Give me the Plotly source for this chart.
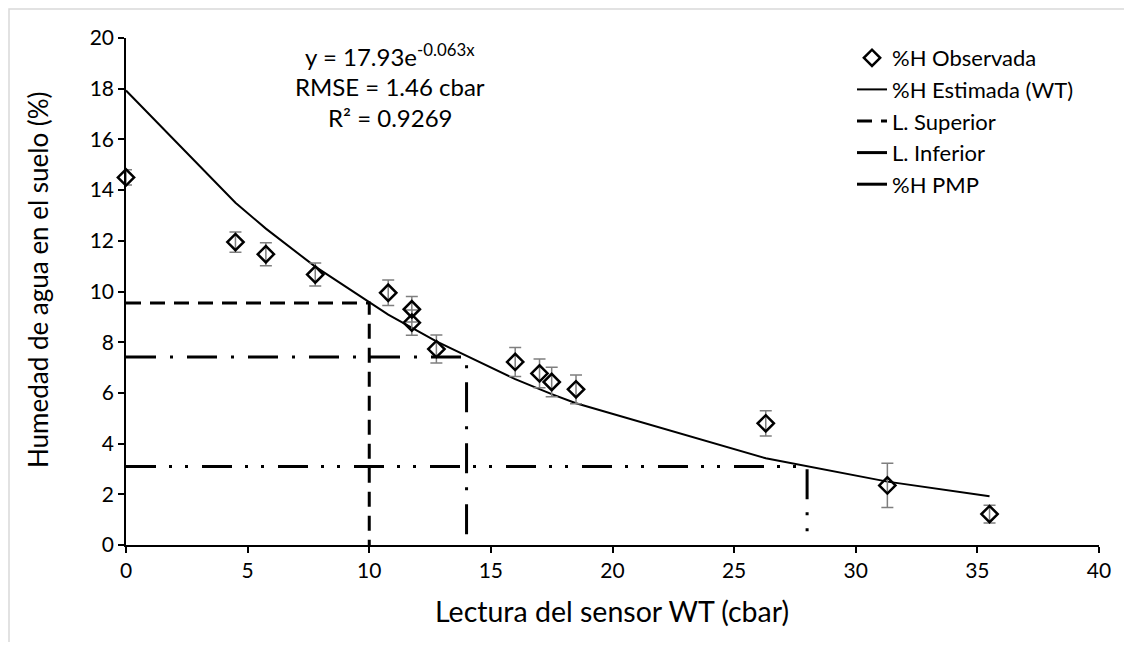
import plotly.graph_objects as go

# ---- data ----
obs_x = [0, 4.5, 5.75, 7.78, 10.78, 11.75, 11.75, 12.76, 16.0, 17.0, 17.5, 18.5, 26.3, 31.3, 35.5]
obs_y = [14.5, 11.95, 11.47, 10.67, 9.95, 9.3, 8.77, 7.73, 7.22, 6.77, 6.43, 6.14, 4.8, 2.35, 1.22]
obs_err = [0.3, 0.4, 0.45, 0.45, 0.5, 0.5, 0.5, 0.55, 0.57, 0.57, 0.58, 0.57, 0.5, 0.87, 0.35]

est_x = [0, 4.5, 5.75, 7.78, 10.78, 11.75, 12.76, 16.0, 17.0, 17.5, 18.5, 26.3, 31.3, 35.5]
est_y = [17.93, 13.50, 12.48, 10.98, 9.09, 8.56, 8.03, 6.54, 6.14, 5.95, 5.59, 3.42, 2.50, 1.92]

sup_x = [0, 10, 10]
sup_y = [9.55, 9.55, 0]
inf_x = [0, 14, 14]
inf_y = [7.42, 7.42, 0]
pmp_x = [0, 28, 28]
pmp_y = [3.1, 3.1, 0]

x_ticks = [0, 5, 10, 15, 20, 25, 30, 35, 40]
y_ticks = [0, 2, 4, 6, 8, 10, 12, 14, 16, 18, 20]

FONT = "Lato"
OFF = 8  # page body margin
W, H = 1116, 634
# plot area in page pixels: left 126, right 1099, top 38, bottom 545
L = 126 - OFF
T = 38 - OFF
R = W - (1099 - OFF)
B = H - (545 - OFF)
pw, ph = W - L - R, H - T - B


def px2paper_x(p):
    return (p - OFF - L) / pw


def px2paper_y(p):
    return (H - B - (p - OFF)) / ph


fig = go.Figure()

fig.add_trace(go.Scatter(
    x=sup_x, y=sup_y, mode="lines", name="L. Superior",
    line=dict(color="black", width=3, dash="15px,9px"),
))
fig.add_trace(go.Scatter(
    x=inf_x, y=inf_y, mode="lines", name="L. Inferior",
    line=dict(color="black", width=3, dash="30px,14px,3px,14px"),
))
fig.add_trace(go.Scatter(
    x=pmp_x, y=pmp_y, mode="lines", name="%H PMP",
    line=dict(color="black", width=3, dash="30px,13px,3px,13px,3px,14px"),
))
fig.add_trace(go.Scatter(
    x=est_x, y=est_y, mode="lines", name="%H Estimada (WT)",
    line=dict(color="black", width=2),
))
fig.add_trace(go.Scatter(
    x=obs_x, y=obs_y, mode="markers", name="%H Observada",
    marker=dict(symbol="diamond-open", size=12.5, color="black", line=dict(width=2.5, color="black")),
    error_y=dict(type="data", array=obs_err, visible=True, color="#7f7f7f", thickness=1.5, width=6),
    cliponaxis=False,
))

order = ["%H Observada", "%H Estimada (WT)", "L. Superior", "L. Inferior", "%H PMP"]
for tr in fig.data:
    tr.legendrank = order.index(tr.name) + 1

axis_common = dict(
    showline=True, linecolor="black", linewidth=1.5,
    ticks="outside", ticklen=6, tickwidth=1.5, tickcolor="black",
    showgrid=False, zeroline=False,
    tickfont=dict(family=FONT, size=21, color="black"),
)

fig.update_layout(
    width=W, height=H,
    margin=dict(l=L, r=R, t=T, b=B, autoexpand=False),
    paper_bgcolor="white", plot_bgcolor="white",
    font=dict(family=FONT, color="black"),
    xaxis=dict(range=[0, 40], tickvals=x_ticks, **axis_common),
    yaxis=dict(range=[0, 20], tickvals=y_ticks, **axis_common),
    showlegend=True,
    legend=dict(
        x=px2paper_x(852), y=px2paper_y(37), xanchor="left", yanchor="top",
        font=dict(family=FONT, size=22, color="black"),
        bgcolor="rgba(0,0,0,0)", borderwidth=0, tracegroupgap=0,
    ),
)

ann_x = px2paper_x(390)
texts = ["y = 17.93e<sup>-0.063x</sup>", "RMSE = 1.46 cbar", "R² = 0.9269"]
ys = [55, 86, 117]
for t, yy in zip(texts, ys):
    fig.add_annotation(x=ann_x, y=px2paper_y(yy), xref="paper", yref="paper",
                       text=t, showarrow=False, xanchor="center", yanchor="middle",
                       font=dict(family=FONT, size=24, color="black"))

fig.add_annotation(x=px2paper_x(612), y=px2paper_y(611), xref="paper", yref="paper",
                   text="Lectura del sensor WT (cbar)", showarrow=False,
                   xanchor="center", yanchor="middle",
                   font=dict(family=FONT, size=28.5, color="black"))
fig.add_annotation(x=px2paper_x(38), y=px2paper_y(280), xref="paper", yref="paper",
                   text="Humedad de agua en el suelo (%)", showarrow=False, textangle=-90,
                   xanchor="center", yanchor="middle",
                   font=dict(family=FONT, size=26, color="black"))

# light grey chart-area border (left and top edges visible)
fig.add_shape(type="rect", xref="paper", yref="paper",
              x0=(1 - L) / pw, x1=(1300 - L) / pw,
              y0=(H - B - 900) / ph, y1=(H - B - 1) / ph,
              line=dict(color="#d9d9d9", width=1.5), fillcolor="rgba(0,0,0,0)", layer="below")

fig.write_html("out.html")
